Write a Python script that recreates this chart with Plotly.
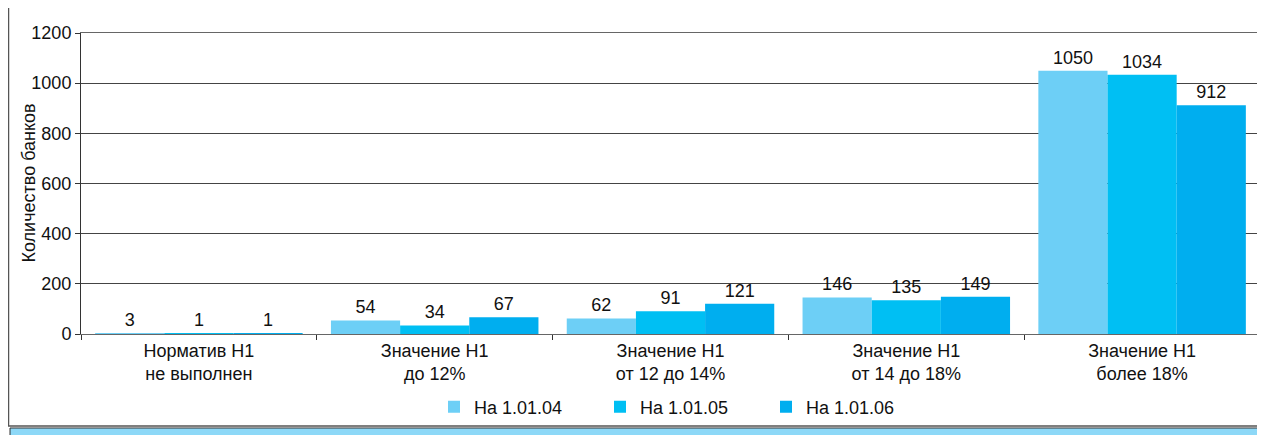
import plotly.graph_objects as go

categories = ["Норматив Н1<br>не выполнен", "Значение Н1<br>до 12%", "Значение Н1<br>от 12 до 14%",
              "Значение Н1<br>от 14 до 18%", "Значение Н1<br>более 18%"]
series_names = ["На 1.01.04", "На 1.01.05", "На 1.01.06"]
values_04 = [3, 54, 62, 146, 1050]
values_05 = [1, 34, 91, 135, 1034]
values_06 = [1, 67, 121, 149, 912]
colors = ["#6DCFF6", "#00BFF3", "#00AEEF"]
y_ticks = [0, 200, 400, 600, 800, 1000, 1200]
y_title = "Количество банков"

# page has an 8px body margin; figure coordinates = screen - 8
OFF = 8
W, H = 1265 - OFF, 435 - OFF
L, R, T, B = 81 - OFF, 5, 33 - OFF, 101
pw, ph = W - L - R, H - T - B

def px(x):
    return (x - OFF - L) / pw

def py(y):
    return (H - B - (y - OFF)) / ph

font = "Liberation Sans, Arial, sans-serif"
fs = 18
fig = go.Figure()
for name, vals, c in zip(series_names, [values_04, values_05, values_06], colors):
    fig.add_trace(go.Bar(
        x=categories, y=vals, name=name, marker=dict(color=c, line=dict(width=0)),
        text=[str(v) for v in vals], textposition="outside", cliponaxis=False,
        textfont=dict(size=fs, color="#111", family=font),
    ))

shapes = [
    dict(type="rect", xref="paper", yref="paper", x0=px(10), x1=px(1275), y0=py(428), y1=py(445),
         fillcolor="#8DD8F7", line=dict(color="#333", width=1), layer="below"),
    dict(type="rect", xref="paper", yref="paper", x0=px(8.5), x1=px(1275), y0=py(0), y1=py(426),
         fillcolor="white", line=dict(color="#555", width=1.5), layer="below"),
]

fig.add_annotation(text=y_title, xref="paper", yref="paper", x=px(28), y=0.5,
                   xanchor="center", yanchor="middle", textangle=-90, showarrow=False,
                   font=dict(size=fs, family=font, color="#111"))

fig.update_layout(
    width=W, height=H, margin=dict(l=L, r=R, t=T, b=B),
    paper_bgcolor="white", plot_bgcolor="rgba(0,0,0,0)",
    barmode="group", bargap=0.12, bargroupgap=0,
    font=dict(family=font, size=fs, color="#111"),
    shapes=shapes,
    showlegend=True,
    legend=dict(orientation="h", x=px(683), xanchor="center", y=py(407), yanchor="middle",
                entrywidth=121, entrywidthmode="pixels", font=dict(size=fs, family=font),
                bgcolor="rgba(0,0,0,0)", itemsizing="constant", tracegroupgap=0),
    xaxis=dict(type="category", tickson="boundaries", ticks="outside", ticklen=5, tickcolor="#333",
               showline=True, linecolor="#666", linewidth=1, mirror=True,
               tickfont=dict(size=fs, family=font, color="#111")),
    yaxis=dict(range=[0, 1200], tickvals=y_ticks, ticks="outside", ticklen=5, tickcolor="#333",
               showgrid=True, gridcolor="#444", gridwidth=1, showline=True, linecolor="#333",
               linewidth=1, mirror=True, zeroline=False,
               tickfont=dict(size=fs, family=font, color="#111")),
)
fig.write_html("out.html")
